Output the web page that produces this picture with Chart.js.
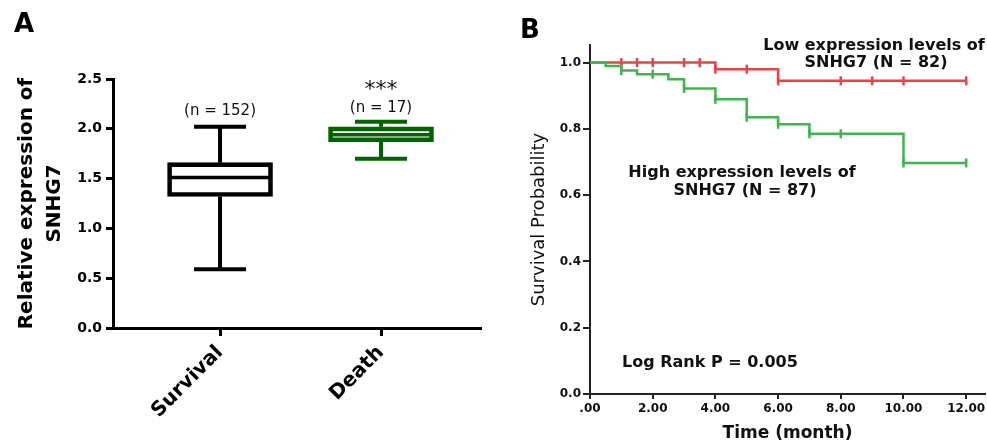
<!DOCTYPE html>
<html>
<head>
<meta charset="utf-8">
<script src="https://cdn.jsdelivr.net/npm/chart.js@4.4.1/dist/chart.umd.min.js"></script>
<style>
  html, body { margin: 0; padding: 0; background: #ffffff; }
  #wrap { position: relative; width: 987px; height: 444px; overflow: hidden; background: #fff; }
  #cA { position: absolute; left: 0; top: 0; }
  #cB { position: absolute; left: 495px; top: 0; }
</style>
</head>
<body>
<div id="wrap">
  <canvas id="cA" width="495" height="444"></canvas>
  <canvas id="cB" width="510" height="444"></canvas>
</div>
<script>
// ---------------- Panel A data (box plot) ----------------
const boxCategories = ['Survival', 'Death'];
const boxMin    = [0.59, 1.70];
const boxQ1     = [1.32, 1.87];
const boxMedian = [1.51, 1.94];
const boxQ3     = [1.66, 2.02];
const boxMax    = [2.02, 2.07];
const boxNLabels = ['(n = 152)', '(n = 17)'];
const boxSignif  = ['', '***'];
const boxYTicks  = [0, 0.5, 1.0, 1.5, 2.0, 2.5];

// ---------------- Panel B data (Kaplan-Meier) ----------------
const lowTimes = [0, 4, 6, 12];
const lowSurv  = [1.0, 0.980, 0.945, 0.945];
const lowCensorTimes = [1, 1.5, 2, 3, 3.5, 4, 5, 6, 8, 9, 10, 12];
const lowCensorSurv  = [1.0, 1.0, 1.0, 1.0, 1.0, 0.980, 0.980, 0.945, 0.945, 0.945, 0.945, 0.945];

const highTimes = [0, 0.5, 1, 1.5, 2.5, 3, 4, 5, 6, 7, 10, 12];
const highSurv  = [1.0, 0.990, 0.976, 0.965, 0.950, 0.922, 0.889, 0.835, 0.814, 0.785, 0.697, 0.697];
const highCensorTimes = [1, 2, 3, 4, 5, 6, 7, 8, 10, 12];
const highCensorSurv  = [0.976, 0.965, 0.922, 0.889, 0.835, 0.814, 0.785, 0.785, 0.697, 0.697];

const kmXTicks = [0, 2, 4, 6, 8, 10, 12];
const kmXTickLabels = ['.00', '2.00', '4.00', '6.00', '8.00', '10.00', '12.00'];
const kmYTicks = [0, 0.2, 0.4, 0.6, 0.8, 1.0];
const kmYTickLabels = ['0.0', '0.2', '0.4', '0.6', '0.8', '1.0'];

// ---------------- styles ----------------
const FONT = 'DejaVu Sans';
const boxColors = ['#000000', '#006400'];
const RED = 'rgb(236,66,66)';
const GREEN = 'rgb(62,182,76)';

// ================= Panel A =================
const boxPlugin = {
  id: 'boxExtras',
  afterDatasetsDraw(chart) {
    const ctx = chart.ctx;
    const xs = chart.scales.x, ys = chart.scales.y;
    ctx.save();
    boxCategories.forEach((c, i) => {
      const x = xs.getPixelForValue(i + 1);
      const col = boxColors[i];
      ctx.strokeStyle = col;
      ctx.lineCap = 'butt';
      ctx.lineWidth = 4;
      const yMax = ys.getPixelForValue(boxMax[i]);
      const yMin = ys.getPixelForValue(boxMin[i]);
      const yQ1 = ys.getPixelForValue(boxQ1[i]);
      const yQ3 = ys.getPixelForValue(boxQ3[i]);
      const yMed = ys.getPixelForValue(boxMedian[i]);
      ctx.beginPath();
      ctx.moveTo(x, yQ3); ctx.lineTo(x, yMax);
      ctx.moveTo(x, yQ1); ctx.lineTo(x, yMin);
      ctx.moveTo(x - 26, yMax); ctx.lineTo(x + 26, yMax);
      ctx.moveTo(x - 26, yMin); ctx.lineTo(x + 26, yMin);
      ctx.stroke();
      ctx.lineWidth = 3.5;
      ctx.beginPath();
      ctx.moveTo(x - 52, yMed); ctx.lineTo(x + 52, yMed);
      ctx.stroke();
    });
    ctx.restore();
  },
  afterDraw(chart) {
    const ctx = chart.ctx;
    const xs = chart.scales.x;
    ctx.save();
    ctx.fillStyle = '#111';
    ctx.textAlign = 'center';
    ctx.textBaseline = 'middle';
    const nY = [111, 108];
    boxCategories.forEach((c, i) => {
      const x = xs.getPixelForValue(i + 1);
      ctx.font = '15px "' + FONT + '"';
      ctx.fillText(boxNLabels[i], x, nY[i]);
      if (boxSignif[i]) {
        ctx.font = '22px "' + FONT + '"';
        ctx.fillText(boxSignif[i], x, 90);
      }
    });
    ctx.font = 'bold 26px "' + FONT + '"';
    ctx.fillStyle = '#000';
    ctx.fillText('A', 24, 25);
    ctx.restore();
  }
};

new Chart(document.getElementById('cA'), {
  type: 'bar',
  data: {
    datasets: [{
      data: boxCategories.map((c, i) => ({ x: i + 1, y: [boxQ1[i], boxQ3[i]] })),
      backgroundColor: 'rgba(255,255,255,0)',
      borderColor: boxColors,
      borderWidth: 4,
      borderSkipped: false,
      barThickness: 105
    }]
  },
  options: {
    responsive: false,
    animation: false,
    devicePixelRatio: 1,
    layout: { padding: { top: 79, right: 15, left: 0, bottom: 0 } },
    plugins: { legend: { display: false }, tooltip: { enabled: false } },
    scales: {
      x: {
        type: 'linear',
        min: 0.335,
        max: 2.615,
        offset: false,
        afterBuildTicks: (s) => { s.ticks = boxCategories.map((c, i) => ({ value: i + 1 })); },
        afterFit: (s) => { s.height = 116; },
        ticks: {
          callback: (v, idx) => boxCategories[idx],
          minRotation: 45,
          maxRotation: 45,
          autoSkip: false,
          padding: 5,
          color: '#000',
          font: { family: FONT, size: 20, weight: 'bold' }
        },
        grid: { display: true, offset: false, drawOnChartArea: false, drawTicks: true, tickLength: 8, color: '#000', lineWidth: 3 },
        border: { display: true, color: '#000', width: 3 }
      },
      y: {
        min: 0,
        max: 2.5,
        afterBuildTicks: (s) => { s.ticks = boxYTicks.map(v => ({ value: v })); },
        afterFit: (s) => { s.width = 113; },
        ticks: {
          callback: (v) => Number(v).toFixed(1),
          padding: 4,
          color: '#000',
          font: { family: FONT, size: 14, weight: 'bold' }
        },
        grid: { display: true, drawOnChartArea: false, drawTicks: true, tickLength: 7, color: '#000', lineWidth: 3 },
        border: { display: true, color: '#000', width: 3 },
        title: {
          display: true,
          text: ['Relative expression of', 'SNHG7'],
          color: '#000',
          font: { family: FONT, size: 20, weight: 'bold', lineHeight: 1.4 },
          padding: { top: 13, bottom: 0 }
        }
      }
    }
  },
  plugins: [boxPlugin]
});

// ================= Panel B =================
const kmText = {
  id: 'kmText',
  afterDraw(chart) {
    const ctx = chart.ctx;
    ctx.save();
    ctx.fillStyle = '#111';
    ctx.textBaseline = 'middle';
    ctx.textAlign = 'center';
    ctx.font = 'bold 16px "' + FONT + '"';
    ctx.fillText('Low expression levels of', 379, 46);
    ctx.fillText('SNHG7 (N = 82)', 381, 63);
    ctx.fillText('High expression levels of', 247, 173);
    ctx.fillText('SNHG7 (N = 87)', 250, 191);
    ctx.textAlign = 'left';
    ctx.fillText('Log Rank P = 0.005', 127, 363);
    ctx.textAlign = 'center';
    ctx.fillStyle = '#000';
    ctx.font = 'bold 26px "' + FONT + '"';
    ctx.fillText('B', 35, 31);
    ctx.restore();
  }
};

new Chart(document.getElementById('cB'), {
  type: 'line',
  data: {
    datasets: [
      {
        label: 'High expression',
        data: highTimes.map((t, i) => ({ x: t, y: highSurv[i] })),
        borderColor: GREEN,
        borderWidth: 2.5,
        stepped: 'before',
        pointRadius: 0,
        fill: false
      },
      {
        label: 'High censored',
        type: 'scatter',
        data: highCensorTimes.map((t, i) => ({ x: t, y: highCensorSurv[i] })),
        borderColor: GREEN,
        backgroundColor: GREEN,
        pointStyle: 'line',
        rotation: 90,
        pointRadius: 4.5,
        borderWidth: 2.5,
        showLine: false
      },
      {
        label: 'Low expression',
        data: lowTimes.map((t, i) => ({ x: t, y: lowSurv[i] })),
        borderColor: RED,
        borderWidth: 2.5,
        stepped: 'before',
        pointRadius: 0,
        fill: false
      },
      {
        label: 'Low censored',
        type: 'scatter',
        data: lowCensorTimes.map((t, i) => ({ x: t, y: lowCensorSurv[i] })),
        borderColor: RED,
        backgroundColor: RED,
        pointStyle: 'line',
        rotation: 90,
        pointRadius: 4.5,
        borderWidth: 2.5,
        showLine: false
      }
    ]
  },
  options: {
    responsive: false,
    animation: false,
    devicePixelRatio: 1,
    layout: { padding: { top: 45, right: 20, left: 0, bottom: 0 } },
    plugins: { legend: { display: false }, tooltip: { enabled: false } },
    scales: {
      x: {
        type: 'linear',
        min: 0,
        max: 12.6,
        afterBuildTicks: (s) => { s.ticks = kmXTicks.map(v => ({ value: v })); },
        afterFit: (s) => { s.height = 50; },
        ticks: {
          callback: (v, idx) => kmXTickLabels[idx],
          maxRotation: 0,
          autoSkip: false,
          padding: 3,
          color: '#111',
          font: { family: FONT, size: 12, weight: 'bold' }
        },
        grid: { display: true, drawOnChartArea: false, drawTicks: true, tickLength: 5, color: '#222', lineWidth: 2 },
        border: { display: true, color: '#222', width: 2 },
        title: {
          display: true,
          text: 'Time (month)',
          color: '#111',
          font: { family: FONT, size: 17, weight: 'bold', lineHeight: 1.2 },
          padding: { top: 0, bottom: 0 }
        }
      },
      y: {
        min: 0,
        max: 1.053,
        afterBuildTicks: (s) => { s.ticks = kmYTicks.map(v => ({ value: v })); },
        afterFit: (s) => { s.width = 95; },
        ticks: {
          callback: (v, idx) => kmYTickLabels[idx],
          padding: 2,
          color: '#111',
          font: { family: FONT, size: 12, weight: 'bold' }
        },
        grid: { display: true, drawOnChartArea: false, drawTicks: true, tickLength: 7, color: '#222', lineWidth: 2 },
        border: { display: true, color: '#222', width: 2 },
        title: {
          display: true,
          text: 'Survival Probability',
          color: '#111',
          font: { family: FONT, size: 18, weight: 'normal', lineHeight: 1.2 },
          padding: { top: 34, bottom: 0 }
        }
      }
    }
  },
  plugins: [kmText]
});
</script>
</body>
</html>
